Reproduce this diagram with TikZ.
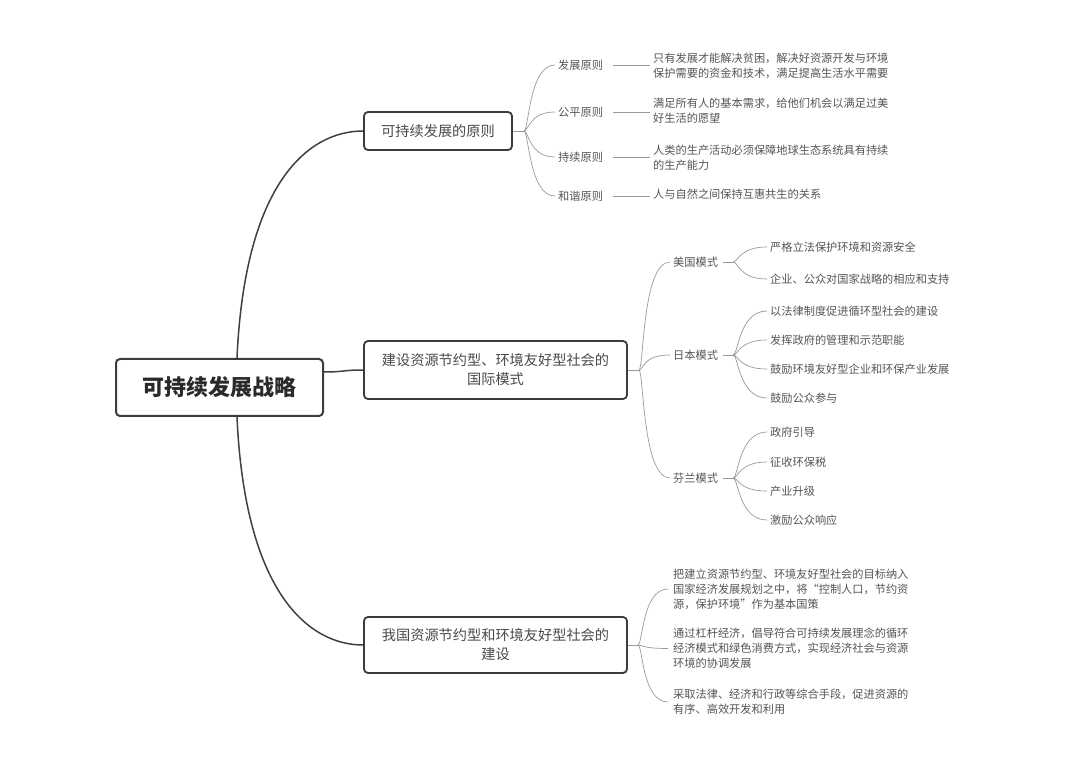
\documentclass[tikz,border=0pt]{standalone}
\usepackage{fontspec}
\setmainfont{Noto Sans CJK SC}
\definecolor{boxc}{HTML}{3C3C3C}
\definecolor{linec}{HTML}{404040}
\definecolor{thinc}{HTML}{9A9A9A}
\definecolor{txt}{HTML}{4A4A4A}
\definecolor{txtb}{HTML}{555555}
\definecolor{rootc}{HTML}{2A2A2A}
\begin{document}
\begin{tikzpicture}[x=1pt,y=-1pt,
  box/.style={draw=boxc, line width=1.8pt, rounded corners=4pt, fill=white, align=center, text=txt, font=\fontsize{14.2}{19}\selectfont, inner sep=0pt},
  sub/.style={inner xsep=3pt, inner ysep=1pt, text=txtb, font=\fontsize{11.2}{15}\selectfont, anchor=west},
  leaf/.style={sub, align=left},
  mainln/.style={draw=linec, line width=1.5pt},
  thinln/.style={draw=thinc, line width=0.7pt}]
\fill[white] (0,0) rectangle (1080,767);
\useasboundingbox (0,0) rectangle (1080,767);

% main boxes
\node[box, minimum width=207pt, minimum height=57pt, line width=2pt, text=rootc, font=\bfseries\fontsize{22}{26}\selectfont] (r) at (219.5,387.5) {可持续发展战略};
\node[box, minimum width=148pt, minimum height=38pt] (b1) at (438,131) {可持续发展的原则};
\node[box, minimum width=263pt, minimum height=58pt] (b2) at (495.5,370) {建设资源节约型、环境友好型社会的\\国际模式};
\node[box, minimum width=263pt, minimum height=56pt] (b3) at (495.5,645) {我国资源节约型和环境友好型社会的\\建设};

% main connectors
\draw[mainln] ([xshift=17.5pt]r.north) .. controls (245,180) and (310,131) .. (b1.west);
\draw[mainln] ([yshift=15.5pt]r.east) .. controls +(20,0) and +(-20,0) .. (b2.west);
\draw[mainln] ([xshift=17.5pt]r.south) .. controls (245,595) and (310,645) .. (b3.west);

% branch 1
\node[sub] (p1) at (555,65) {发展原则};
\node[sub] (p2) at (555,112) {公平原则};
\node[sub] (p3) at (555,157) {持续原则};
\node[sub] (p4) at (555,196) {和谐原则};
\node[leaf] (q1) at (650,65.5) {只有发展才能解决贫困，解决好资源开发与环境\\保护需要的资金和技术，满足提高生活水平需要};
\node[leaf] (q2) at (650,110.5) {满足所有人的基本需求，给他们机会以满足过美\\好生活的愿望};
\node[leaf] (q3) at (650,157.5) {人类的生产活动必须保障地球生态系统具有持续\\的生产能力};
\node[leaf] (q4) at (650,194.5) {人与自然之间保持互惠共生的关系};

\draw[thinln] (b1.east) -- ++(11,0) coordinate (f1);
\foreach \c in {p1,p2,p3,p4}
  \draw[thinln] (f1) .. controls +(5,0) and +(-26,0) .. (\c.west);
\draw[thinln] ([xshift=7pt]p1.east) -- (p1.east -| q1.west);
\draw[thinln] ([xshift=7pt]p2.east) -- (p2.east -| q2.west);
\draw[thinln] ([xshift=7pt]p3.east) -- (p3.east -| q3.west);
\draw[thinln] ([xshift=7pt]p4.east) -- (p4.east -| q4.west);

% branch 2
\node[sub] (m1) at (670,262) {美国模式};
\node[sub] (m2) at (670,355) {日本模式};
\node[sub] (m3) at (670,478) {芬兰模式};
\draw[thinln] (b2.east) -- ++(11,0) coordinate (f2);
\foreach \c in {m1,m2,m3}
  \draw[thinln] (f2) .. controls +(5,0) and +(-28,0) .. (\c.west);

\node[sub] (g1) at (767,247) {严格立法保护环境和资源安全};
\node[sub] (g2) at (767,279) {企业、公众对国家战略的相应和支持};
\node[sub] (g3) at (767,311) {以法律制度促进循环型社会的建设};
\node[sub] (g4) at (767,340) {发挥政府的管理和示范职能};
\node[sub] (g5) at (767,369) {鼓励环境友好型企业和环保产业发展};
\node[sub] (g6) at (767,398) {鼓励公众参与};
\node[sub] (g7) at (767,432) {政府引导};
\node[sub] (g8) at (767,462) {征收环保税};
\node[sub] (g9) at (767,491) {产业升级};
\node[sub] (g10) at (767,520) {激励公众响应};

\draw[thinln, shorten <=2pt] (m1.east) -- ++(12,0) coordinate (h1);
\draw[thinln, shorten <=2pt] (m2.east) -- ++(12,0) coordinate (h2);
\draw[thinln, shorten <=2pt] (m3.east) -- ++(12,0) coordinate (h3);
\foreach \c in {g1,g2}
  \draw[thinln] (h1) .. controls +(5,0) and +(-28,0) .. (\c.west);
\foreach \c in {g3,g4,g5,g6}
  \draw[thinln] (h2) .. controls +(5,0) and +(-28,0) .. (\c.west);
\foreach \c in {g7,g8,g9,g10}
  \draw[thinln] (h3) .. controls +(5,0) and +(-28,0) .. (\c.west);

% branch 3
\node[leaf, inner xsep=5pt] (s1) at (668,589) {把建立资源节约型、环境友好型社会的目标纳入\\国家经济发展规划之中，将“控制人口，节约资\\源，保护环境”作为基本国策};
\node[leaf, inner xsep=5pt] (s2) at (668,648.5) {通过杠杆经济，倡导符合可持续发展理念的循环\\经济模式和绿色消费方式，实现经济社会与资源\\环境的协调发展};
\node[leaf, inner xsep=5pt] (s3) at (668,702) {采取法律、经济和行政等综合手段，促进资源的\\有序、高效开发和利用};
\draw[thinln] (b3.east) -- ++(10,0) coordinate (f3);
\foreach \c in {s1,s2,s3}
  \draw[thinln] (f3) .. controls +(5,0) and +(-26,0) .. (\c.west);
\end{tikzpicture}
\end{document}
